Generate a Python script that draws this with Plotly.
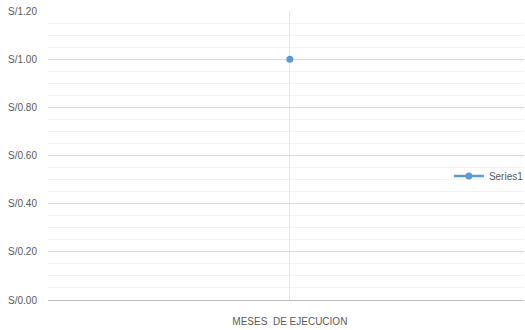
import plotly.graph_objects as go

categories = ["MESES  DE EJECUCION"]
series1 = [1.00]
series_name = "Series1"

fig = go.Figure()
fig.add_trace(go.Scatter(
    x=categories, y=series1, name=series_name, mode="lines+markers",
    line=dict(color="#5b9bd5", width=2.5),
    marker=dict(color="#5b9bd5", size=7),
    showlegend=True,
))

fig.update_layout(
    width=525, height=330,
    margin=dict(l=48, r=1, t=11, b=30, autoexpand=False),
    paper_bgcolor="white", plot_bgcolor="white",
    font=dict(family="Liberation Sans, Arial, sans-serif", size=10, color="#595959"),
    showlegend=True,
    legend=dict(xref="container", yref="container", x=0.855, y=0.467,
                xanchor="left", yanchor="middle", bgcolor="rgba(0,0,0,0)",
                font=dict(size=10, color="#595959"), itemwidth=30),
    xaxis=dict(
        type="category", range=[-0.5, 0.484],
        showgrid=True, gridcolor="#e6e6e6", gridwidth=1,
        showline=False, zeroline=False, ticks="",
        ticklabelstandoff=14,
    ),
    yaxis=dict(
        range=[0, 1.2], dtick=0.2, tick0=0,
        tickprefix="S/", tickformat=".2f",
        showgrid=True, gridcolor="#d9d9d9", gridwidth=1,
        zeroline=True, zerolinecolor="#bfbfbf", zerolinewidth=1,
        showline=False, ticks="", ticklabelstandoff=10,
        minor=dict(dtick=0.05, showgrid=True, gridcolor="#f2f2f2", gridwidth=1),
    ),
)

fig.write_html("out.html")
